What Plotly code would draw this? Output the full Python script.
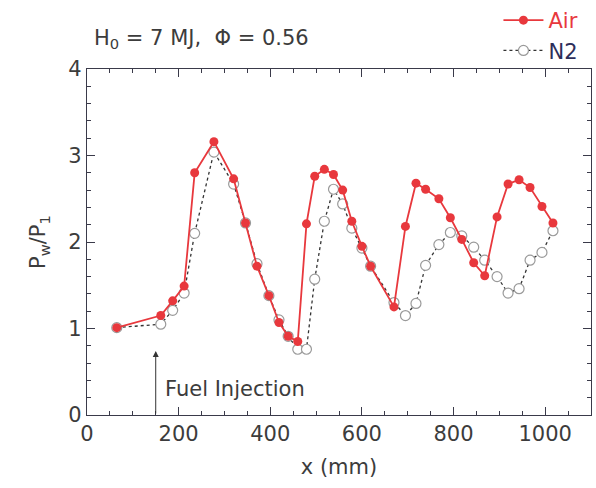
import plotly.graph_objects as go

x_mm = [65, 161, 187, 212, 235, 277, 320, 346, 371, 397, 419, 439, 460, 479, 497, 518, 538, 558,
        578, 600, 619, 670, 695, 718, 739, 768, 793, 818, 844, 868, 895, 919, 943, 967, 993, 1017]
air = [1.01, 1.15, 1.32, 1.49, 2.80, 3.16, 2.73, 2.22, 1.72, 1.38, 1.07, 0.91, 0.85, 2.21, 2.76, 2.84, 2.78, 2.60,
       2.24, 1.95, 1.72, 1.25, 2.18, 2.68, 2.61, 2.50, 2.28, 2.03, 1.76, 1.61, 2.29, 2.67, 2.72, 2.63, 2.41, 2.22]
n2 = [1.01, 1.05, 1.21, 1.41, 2.10, 3.04, 2.67, 2.22, 1.75, 1.38, 1.10, 0.91, 0.76, 0.76, 1.57, 2.24, 2.61, 2.44,
      2.16, 1.93, 1.72, 1.30, 1.15, 1.29, 1.73, 1.97, 2.11, 2.07, 1.94, 1.79, 1.60, 1.41, 1.46, 1.79, 1.88, 2.13]

RED = "#e8383d"
DARK = "#3a3a4a"
TXT = "#3c3c3c"
FONT = "DejaVu Sans, Liberation Sans, Arial, sans-serif"
FS = 21

fig = go.Figure()
fig.add_trace(go.Scatter(
    x=x_mm, y=n2, mode="lines+markers", name="<span style='color:#2e2e5a'>N2</span>",
    line=dict(color="#333333", width=1.3, dash="dot"),
    marker=dict(symbol="circle", size=10, color="white", line=dict(color="#9a9a9a", width=1.2)),
))
fig.add_trace(go.Scatter(
    x=x_mm, y=air, mode="lines+markers", name=f"<span style='color:{RED}'>Air</span>",
    line=dict(color=RED, width=1.8),
    marker=dict(symbol="circle", size=9, color=RED, line=dict(width=0)),
))

axis_common = dict(
    showline=True, linecolor=DARK, linewidth=1.2, mirror="allticks",
    ticks="inside", ticklen=8, tickcolor=DARK, tickwidth=1.2,
    showgrid=False, zeroline=False,
    tickfont=dict(family=FONT, size=FS, color=TXT),
)
fig.update_xaxes(range=[0, 1100], dtick=200, tick0=0,
                 minor=dict(ticks="inside", ticklen=4, dtick=50, tickcolor=DARK, showgrid=False),
                 title=dict(text="x (mm)", font=dict(family=FONT, size=FS, color=TXT), standoff=14),
                 **axis_common)
fig.update_yaxes(range=[0, 4], dtick=1, tick0=0,
                 minor=dict(ticks="inside", ticklen=4, dtick=0.2, tickcolor=DARK, showgrid=False),
                 title=dict(text="P<sub>w</sub>/P<sub>1</sub>", font=dict(family=FONT, size=FS, color=TXT), standoff=16),
                 **axis_common)

fig.add_annotation(x=150, y=0.74, ax=150, ay=0.0, xref="x", yref="y", axref="x", ayref="y",
                   showarrow=True, arrowhead=2, arrowsize=1.2, arrowwidth=1, arrowcolor="#333333", text="")
fig.add_annotation(x=166, y=0.30, xref="x", yref="y", xanchor="left", yanchor="middle", showarrow=False,
                   text="Fuel Injection", font=dict(family=FONT, size=FS, color=TXT))
fig.add_annotation(x=0.01, y=1.088, xref="paper", yref="paper", xanchor="left", yanchor="middle", showarrow=False,
                   text="H<sub>0</sub> = 7 MJ,  Φ = 0.56", font=dict(family=FONT, size=FS, color=TXT))

fig.update_layout(
    width=596, height=488,
    margin=dict(l=87, r=5, t=69, b=73, autoexpand=False),
    paper_bgcolor="white", plot_bgcolor="white",
    showlegend=True,
    legend=dict(x=0.985, xanchor="right", y=1.0, yref="container", yanchor="top", traceorder="reversed",
                bgcolor="rgba(0,0,0,0)", font=dict(family=FONT, size=FS, color=TXT),
                itemwidth=40, tracegroupgap=0),
)
fig.write_html("out.html")
